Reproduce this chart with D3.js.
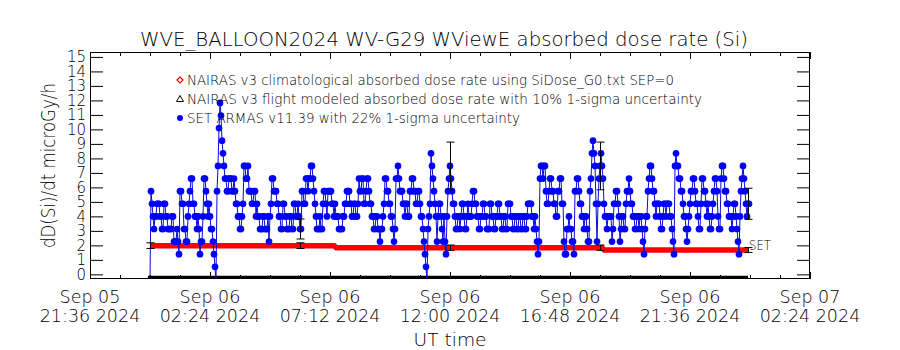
<!DOCTYPE html>
<html><head><meta charset="utf-8">
<script src="https://cdn.jsdelivr.net/npm/d3@7"></script>
<style>
body{margin:0;background:#fff}
svg{display:block;background:#fff}
text{font-family:"DejaVu Sans",sans-serif;font-weight:200;fill:#000}
</style>
</head><body>
<svg id="chart" width="900" height="350"></svg>
<script>
// ---------------- data ----------------
const titleText = "WVE_BALLOON2024 WV-G29 WViewE absorbed dose rate (Si)";
const yLabelText = "dD(Si)/dt microGy/h";
const xLabelText = "UT time";
const endLabelText = "SET";

const xTickTimes = ["2024-09-05T21:36:00Z","2024-09-06T02:24:00Z","2024-09-06T07:12:00Z",
  "2024-09-06T12:00:00Z","2024-09-06T16:48:00Z","2024-09-06T21:36:00Z","2024-09-07T02:24:00Z"];
const xTickLine1 = ["Sep 05","Sep 06","Sep 06","Sep 06","Sep 06","Sep 06","Sep 07"];
const xTickLine2 = ["21:36 2024","02:24 2024","07:12 2024","12:00 2024","16:48 2024","21:36 2024","02:24 2024"];
const yTicks = [0,1,2,3,4,5,6,7,8,9,10,11,12,13,14,15];
const yDomain = [-0.32, 15.34];

const legendLabels = [
  "NAIRAS v3 climatological absorbed dose rate using SiDose_G0.txt SEP=0",
  "NAIRAS v3 flight modeled absorbed dose rate with 10% 1-sigma uncertainty",
  "SET ARMAS v11.39 with 22% 1-sigma uncertainty"
];

// SET ARMAS measured dose rate: quantized levels (microGy/h), one character per sample
const setLevelCodes  = ["z","0","1","2","3","4","5","6","7","8","9","a","b","c","d"];
const setLevelValues = [-0.5,0.52,1.39,2.26,3.13,4.00,4.87,5.74,6.61,7.48,8.35,9.22,10.09,10.96,11.83];
const setStart = "2024-09-06T00:00:00Z";
const setStepMinutes = 2.4;
const setSeries =
  "z6543445554433554433" + "33442223216655332245" + "67755443431224776545" +
  "433210z68bdca9877667" + "77667655443345887786" + "66556645443334433342" +
  "45776665544335544333" + "44335544543366557767" + "78876543334335665466" +
  "66554544433334455666" + "55445544576677556776" + "55443344332334577665" +
  "54432377876665545544" + "66776655665443210z34" + "59876542455432421467" +
  "87655433443455433454" + "44566554433445544333" + "55443344554433443355" +
  "54433443344334433455" + "55443432127887886556" + "77665544667755211334" +
  "33221667765544344322" + "679a9852578987544344" + "44235566542344335667" +
  "65544334434432134467" + "88766545554334554555" + "44321898877665443234" +
  "56677655433577665454" + "33456776433788766554" + "44345543214678765455";
const setErrTimes = ["2024-09-06T06:00:00Z","2024-09-06T12:00:00Z","2024-09-06T18:00:00Z","2024-09-06T23:55:12Z"];
const setErrFraction = 0.22;

// NAIRAS climatological (red thick line)
const climTimes  = ["2024-09-06T00:00:00Z","2024-09-06T07:22:00Z","2024-09-06T07:27:00Z",
                    "2024-09-06T18:05:00Z","2024-09-06T18:10:00Z","2024-09-06T23:55:12Z"];
const climValues = [1.98, 1.98, 1.84, 1.84, 1.68, 1.68];

// NAIRAS flight modeled error bars (10%)
const flightErrTimes  = ["2024-09-06T00:00:00Z","2024-09-06T06:00:00Z","2024-09-06T12:00:00Z",
                         "2024-09-06T18:00:00Z","2024-09-06T23:55:12Z"];
const flightErrValues = [1.98, 1.98, 1.84, 1.84, 1.68];
const flightErrFraction = 0.10;

// black baseline series (off the bottom of the scale)
const baseTimes  = ["2024-09-05T23:55:00Z","2024-09-06T23:55:12Z"];
const baseValues = [-0.23, -0.23];

// ---------------- chart ----------------
const svg = d3.select("#chart");
const L = 90, R = 810, T = 52, B = 279;
const parse = d3.utcParse("%Y-%m-%dT%H:%M:%SZ");

const x = d3.scaleUtc().domain([parse(xTickTimes[0]), parse(xTickTimes[xTickTimes.length-1])]).range([L, R]);
const y = d3.scaleLinear().domain(yDomain).range([B, T]);

svg.append("defs").append("clipPath").attr("id","plotclip")
  .append("rect").attr("x",L).attr("y",T).attr("width",R-L).attr("height",B-T);
const plot = svg.append("g").attr("clip-path","url(#plotclip)");

// black baseline
const baseData = baseTimes.map((t,i)=>({t:parse(t), v:baseValues[i]}));
plot.append("path").datum(baseData)
  .attr("d", d3.line().x(d=>x(d.t)).y(d=>y(d.v)))
  .attr("fill","none").attr("stroke","#000").attr("stroke-width",4);

// red climatological line
const climData = climTimes.map((t,i)=>({t:parse(t), v:climValues[i]}));
plot.append("path").datum(climData)
  .attr("d", d3.line().x(d=>x(d.t)).y(d=>y(d.v)))
  .attr("fill","none").attr("stroke","#ff0000").attr("stroke-width",5.5);

// SET series
const t0 = parse(setStart);
const setData = setSeries.split("").map((c,i)=>({
  t: new Date(+t0 + i*setStepMinutes*60000),
  v: setLevelValues[setLevelCodes.indexOf(c)]
}));
plot.append("path").datum(setData)
  .attr("d", d3.line().x(d=>x(d.t)).y(d=>y(d.v)))
  .attr("fill","none").attr("stroke","#0a0ad8").attr("stroke-width",1);
plot.append("g").selectAll("circle").data(setData).join("circle")
  .attr("cx",d=>x(d.t)).attr("cy",d=>y(d.v)).attr("r",3.35).attr("fill","#0000ff");

// error bars
function errBar(g, t, v, frac){
  const xx = Math.round(x(t)) + 0.5;
  const y1 = y(v*(1+frac)), y2 = y(v*(1-frac));
  g.append("line").attr("x1",xx).attr("x2",xx).attr("y1",y1).attr("y2",y2);
  g.append("line").attr("x1",xx-4).attr("x2",xx+4).attr("y1",y1).attr("y2",y1);
  g.append("line").attr("x1",xx-4).attr("x2",xx+4).attr("y1",y2).attr("y2",y2);
}
const eg = plot.append("g").attr("stroke","#000").attr("stroke-width",1);
setErrTimes.forEach(ts=>{
  const t = parse(ts);
  const idx = Math.min(setData.length-1, Math.round((t - t0)/(setStepMinutes*60000)));
  errBar(eg, setData[idx].t, setData[idx].v, setErrFraction);
});
flightErrTimes.forEach((ts,i)=> errBar(eg, parse(ts), flightErrValues[i], flightErrFraction));

// frame
svg.append("rect").attr("x",L+0.5).attr("y",T+0.5).attr("width",R-L-1).attr("height",B-T-1)
  .attr("fill","none").attr("stroke","#000").attr("stroke-width",1);

// axes
const majorTimes = xTickTimes.map(parse);
const minorTimes = d3.range(0, 25).map(i=>new Date(+majorTimes[0] + i*72*60000))
  .filter((d,i)=> i%4 !== 0);

function styleAxis(g){ g.select(".domain").remove(); g.selectAll("line").attr("stroke","#000"); }
svg.append("g").attr("transform",`translate(0,${B})`)
  .call(d3.axisBottom(x).tickValues(majorTimes).tickSize(-7).tickFormat("")).call(styleAxis);
svg.append("g").attr("transform",`translate(0,${B})`)
  .call(d3.axisBottom(x).tickValues(minorTimes).tickSize(-4).tickFormat("")).call(styleAxis);
svg.append("g").attr("transform",`translate(0,${T})`)
  .call(d3.axisTop(x).tickValues(majorTimes).tickSize(-7).tickFormat("")).call(styleAxis);
svg.append("g").attr("transform",`translate(0,${T})`)
  .call(d3.axisTop(x).tickValues(minorTimes).tickSize(-4).tickFormat("")).call(styleAxis);

const yl = svg.append("g").attr("transform",`translate(${L},0)`)
  .call(d3.axisLeft(y).tickValues(yTicks).tickSize(-13).tickPadding(4).tickFormat(d3.format("d")))
  .call(styleAxis);
yl.selectAll("text").attr("font-size",15).attr("font-family","DejaVu Sans").attr("fill","#000");
svg.append("g").attr("transform",`translate(${R},0)`)
  .call(d3.axisRight(y).tickValues(yTicks).tickSize(-13).tickFormat("")).call(styleAxis);

// x tick labels (two lines)
const xl = svg.append("g");
majorTimes.forEach((t,i)=>{
  const tx = xl.append("text").attr("text-anchor","middle").attr("font-size",17.5);
  tx.append("tspan").attr("x",x(t)).attr("y",303).text(xTickLine1[i]);
  tx.append("tspan").attr("x",x(t)).attr("y",322).text(xTickLine2[i]);
});

// titles
svg.append("text").attr("x",444).attr("y",46).attr("text-anchor","middle")
  .attr("font-size",20).attr("textLength",608).attr("lengthAdjust","spacingAndGlyphs").text(titleText);
svg.append("text").attr("x",450).attr("y",346).attr("text-anchor","middle")
  .attr("font-size",17.5).attr("textLength",73).attr("lengthAdjust","spacingAndGlyphs").text(xLabelText);
svg.append("text").attr("transform","translate(55,165.5) rotate(-90)").attr("text-anchor","middle")
  .attr("font-size",19).attr("textLength",165).attr("lengthAdjust","spacingAndGlyphs").text(yLabelText);

// end label
svg.append("text").attr("x",749).attr("y",250).attr("font-size",14)
  .attr("textLength",22).attr("lengthAdjust","spacingAndGlyphs").text(endLabelText);

// legend
const legY = [80, 99, 118];
const legLen = [487, 515, 333];
const lg = svg.append("g");
lg.append("path").attr("d",`M180,${legY[0]-3}L183,${legY[0]}L180,${legY[0]+3}L177,${legY[0]}Z`)
  .attr("fill","none").attr("stroke","#e00000").attr("stroke-width",1.2);
lg.append("path").attr("d",`M180,${legY[1]-3.5}L183.5,${legY[1]+2.5}L176.5,${legY[1]+2.5}Z`)
  .attr("fill","none").attr("stroke","#000").attr("stroke-width",1);
lg.append("circle").attr("cx",180).attr("cy",legY[2]).attr("r",3).attr("fill","#0000ff");
legendLabels.forEach((s,i)=>{
  lg.append("text").attr("x",187).attr("y",legY[i]+5).attr("font-size",14)
    .attr("textLength",legLen[i]).attr("lengthAdjust","spacingAndGlyphs").text(s);
});
</script>
</body></html>
